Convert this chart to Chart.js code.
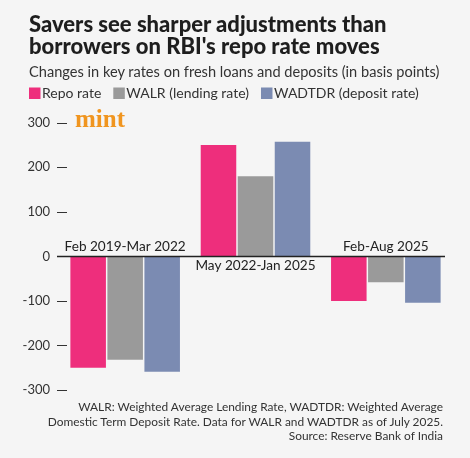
<!DOCTYPE html>
<html><head><meta charset="utf-8">
<script src="https://cdn.jsdelivr.net/npm/chart.js@4"></script>
<style>
html,body{margin:0;padding:0;background:#f5f5f5;}
#wrap{position:relative;width:470px;height:458px;overflow:hidden;font-family:"Lato",sans-serif;background:#f5f5f5;}
#title{position:absolute;left:29px;top:13px;font-weight:900;font-size:22px;line-height:22px;color:#1e1e1e;white-space:nowrap;}
#sub{position:absolute;left:29px;top:62px;font-size:14.6px;line-height:20px;color:#333;white-space:nowrap;}
#foot{position:absolute;right:27px;top:400px;font-size:11.9px;line-height:14.7px;color:#333;text-align:right;white-space:nowrap;}
canvas{position:absolute;left:0;top:0;}
</style></head>
<body>
<div id="wrap">
<canvas id="c" width="470" height="458"></canvas>
<div id="title">Savers see sharper adjustments than<br>borrowers on RBI's repo rate moves</div>
<div id="sub">Changes in key rates on fresh loans and deposits (in basis points)</div>
<div id="foot">WALR: Weighted Average Lending Rate, WADTDR: Weighted Average<br>Domestic Term Deposit Rate. Data for WALR and WADTDR as of July 2025.<br>Source: Reserve Bank of India</div>
</div>
<script>
const categories = ["Feb 2019-Mar 2022", "May 2022-Jan 2025", "Feb-Aug 2025"];
const seriesNames = ["Repo rate", "WALR (lending rate)", "WADTDR (deposit rate)"];
const repoRate = [-250, 250, -100];
const walr = [-232, 180, -58];
const wadtdr = [-259, 257, -104];
const yTicks = [-300, -200, -100, 0, 100, 200, 300];
const seriesColors = ["#ee2e7c", "#9a9a9a", "#7b8bb2"];

const overlay = {
  id: 'overlay',
  afterDatasetsDraw(chart) {
    const { ctx, chartArea, scales: { x, y } } = chart;
    ctx.save();
    // tick dashes
    ctx.strokeStyle = '#333';
    ctx.lineWidth = 1;
    y.ticks.forEach(t => {
      const py = Math.round(y.getPixelForValue(t.value)) + 0.5;
      ctx.beginPath();
      ctx.moveTo(chartArea.left - 3, py);
      ctx.lineTo(chartArea.left + 7, py);
      ctx.stroke();
    });
    // zero line
    const z = Math.round(y.getPixelForValue(0)) + 0.5;
    ctx.strokeStyle = '#222';
    ctx.lineWidth = 1.3;
    ctx.beginPath();
    ctx.moveTo(chartArea.left - 3, z);
    ctx.lineTo(chartArea.right - 6, z);
    ctx.stroke();
    // category labels near zero line
    ctx.font = '13.6px "Lato"';
    ctx.fillStyle = '#222';
    ctx.textAlign = 'center';
    categories.forEach((c, i) => {
      const px = x.getPixelForValue(i);
      const neg = repoRate[i] < 0;
      ctx.textBaseline = 'middle';
      ctx.fillText(c, px, neg ? z - 10 : z + 9);
    });
    // mint logo
    ctx.font = 'bold 25px "Liberation Serif"';
    ctx.fillStyle = '#f0951f';
    ctx.textAlign = 'left';
    ctx.textBaseline = 'alphabetic';
    ctx.fillText('mint', chartArea.left + 15, 127);
    // legend
    ctx.font = '14px "Lato"';
    ctx.textBaseline = 'middle';
    let lx = 29;
    chart.data.datasets.forEach(ds => {
      ctx.fillStyle = ds.backgroundColor;
      ctx.fillRect(lx, 87.5, 11.5, 11.5);
      ctx.fillStyle = '#333';
      ctx.fillText(ds.label, lx + 13, 93.5);
      lx += 13 + ctx.measureText(ds.label).width + 12;
    });
    ctx.restore();
  }
};

new Chart(document.getElementById('c'), {
  type: 'bar',
  data: {
    labels: categories,
    datasets: [
      { label: seriesNames[0], data: repoRate, backgroundColor: seriesColors[0] },
      { label: seriesNames[1], data: walr, backgroundColor: seriesColors[1] },
      { label: seriesNames[2], data: wadtdr, backgroundColor: seriesColors[2] }
    ]
  },
  options: {
    responsive: false,
    animation: false,
    events: [],
    layout: { padding: { left: 0, right: 19, top: 122.7, bottom: 68 } },
    categoryPercentage: 0.852,
    barPercentage: 0.96,
    plugins: { legend: { display: false }, title: { display: false }, tooltip: { enabled: false } },
    scales: {
      x: { display: false },
      y: {
        min: -300, max: 300,
        afterFit(s) { s.width = 60; },
        afterBuildTicks(s) { s.ticks = yTicks.map(v => ({ value: v })); },
        border: { display: false },
        grid: { display: false, drawTicks: false },
        ticks: { padding: 10, color: '#333', font: { family: 'Lato', size: 13 } }
      }
    }
  },
  plugins: [overlay]
});
</script>
</body></html>
